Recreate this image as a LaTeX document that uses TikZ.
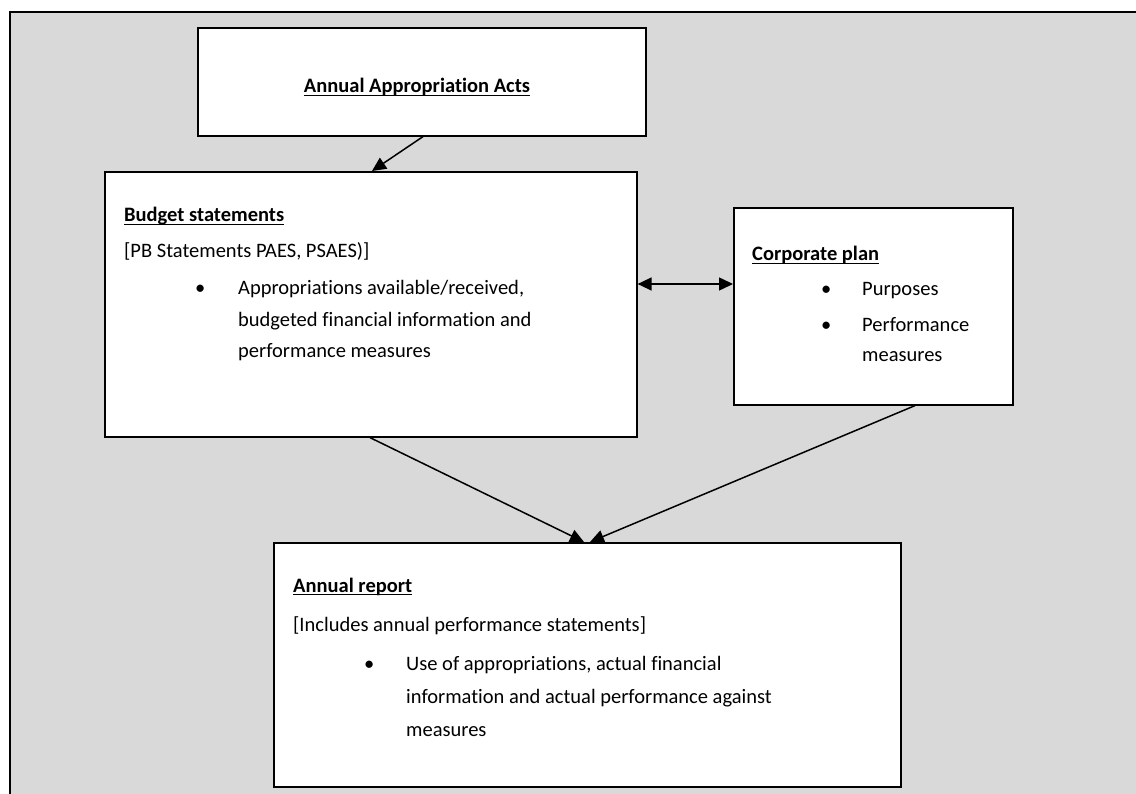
\documentclass[tikz,border=0pt]{standalone}
\usepackage{fontspec}
\setmainfont{Carlito}[Ligatures={NoCommon}]
\usetikzlibrary{arrows.meta}
\newsavebox\myulbox
\newcommand{\myul}[1]{\sbox\myulbox{#1}\rlap{\rule[-3.4pt]{\wd\myulbox}{1.4pt}}\usebox\myulbox}
\definecolor{bggray}{HTML}{D9D9D9}
\tikzset{
  box/.style={draw=black, line width=1.6pt, fill=white, rectangle, anchor=north west, inner sep=0pt},
  txt/.style={anchor=base west, inner sep=0pt, font=\fontsize{20.5}{24}\selectfont},
  ttl/.style={txt, font=\fontsize{20.5}{24}\selectfont\bfseries},
  arr/.style={line width=1.5pt, -{Triangle[length=14pt,width=13pt]}},
  darr/.style={line width=1.5pt, {Triangle[length=14pt,width=13pt]}-{Triangle[length=14pt,width=13pt]}}
}
\begin{document}
\begin{tikzpicture}[x=1pt,y=-1pt]
\useasboundingbox (0,0) rectangle (1136,794);
\fill[bggray] (10,12) rectangle (1136,794);
\draw[line width=1.5pt] (10,794) -- (10,12) -- (1136,12);

\node[box, minimum width=448pt, minimum height=108pt] (top) at (197,27) {};
\node[box, minimum width=532pt, minimum height=265pt] (budget) at (104,171) {};
\node[box, minimum width=279pt, minimum height=197pt] (corp) at (733,207) {};
\node[box, minimum width=627pt, minimum height=244pt] (annual) at (273,542) {};

% top box text
\node[ttl, anchor=base] (t1) at (417,93) {\myul{Annual Appropriation Acts}};

% budget text
\node[ttl] (b1) at (124,222) {\myul{Budget statements}};
\node[txt] (b2) at (124,258) {[PB Statements PAES, PSAES)]};
\node[txt] (b3) at (195,295) {•};
\node[txt] (b4) at (238,295) {Appropriations available/received,};
\node[txt] (b5) at (238,327) {budgeted financial information and};
\node[txt] (b6) at (238,358) {performance measures};

% corporate text
\node[ttl] (c1) at (752,261) {\myul{Corporate plan}};
\node[txt] (c2) at (821,296) {•};
\node[txt] (c3) at (862,296) {Purposes};
\node[txt] (c4) at (821,332) {•};
\node[txt] (c5) at (862,332) {Performance};
\node[txt] (c6) at (862,362) {measures};

% annual report text
\node[ttl] (a1) at (293,592) {\myul{Annual report}};
\node[txt] (a2) at (293,631) {[Includes annual performance statements]};
\node[txt] (a3) at (364,670) {•};
\node[txt] (a4) at (406,670) {Use of appropriations, actual financial};
\node[txt] (a5) at (406,703) {information and actual performance against};
\node[txt] (a6) at (406,736) {measures};

% connectors
\draw[arr] (top.south -| 423,0) -- (budget.north -| 372,0);
\draw[darr] (budget.east |- 0,284) -- (corp.west |- 0,284);
\draw[arr] (budget.south -| 370,0) -- (annual.north -| 584,0);
\draw[arr] (corp.south -| 915,0) -- (annual.north -| 590,0);
\end{tikzpicture}
\end{document}
